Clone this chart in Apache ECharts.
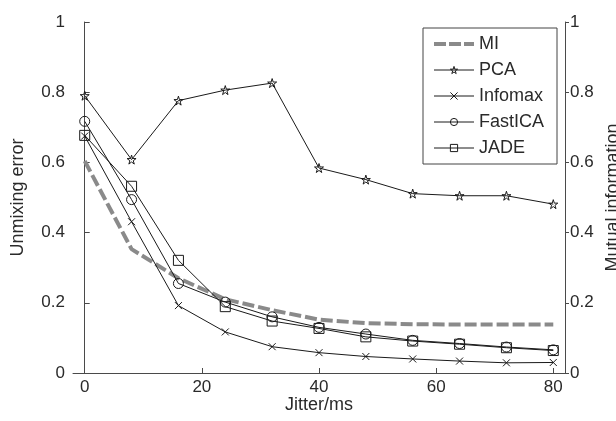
<!DOCTYPE html>
<html>
<head>
<meta charset="utf-8">
<script src="https://cdn.jsdelivr.net/npm/echarts@6/dist/echarts.min.js"></script>
<style>
html,body{margin:0;padding:0;background:#fff;}
#chart{width:616px;height:421px;}
</style>
</head>
<body>
<div id="chart"></div>
<script>
const jitter = [0, 8, 16, 24, 32, 40, 48, 56, 64, 72, 80];
const mi = [0.604, 0.353, 0.27, 0.21, 0.179, 0.152, 0.142, 0.139, 0.138, 0.138, 0.138];
const pca = [0.790, 0.608, 0.776, 0.806, 0.826, 0.584, 0.551, 0.511, 0.505, 0.505, 0.481];
const infomax = [0.675, 0.431, 0.192, 0.117, 0.075, 0.058, 0.047, 0.040, 0.034, 0.029, 0.030];
const fastica = [0.717, 0.494, 0.255, 0.202, 0.160, 0.130, 0.111, 0.093, 0.084, 0.074, 0.066];
const jade = [0.677, 0.532, 0.321, 0.189, 0.148, 0.127, 0.103, 0.091, 0.082, 0.072, 0.064];
const xTicks = [0, 20, 40, 60, 80];

const FONT = 'Liberation Sans, Arial, sans-serif';
const TXT = '#2a2a2a';
const AX = '#4a4a4a';
const INK = '#1a1a1a';
const MI_GRAY = '#8a8a8a';
const CLEAR = 'rgba(255,255,255,0)';

function pairs(ys) { return jitter.map((x, i) => [x, ys[i]]); }

const STAR = 'path://M50,0 L61,35 L98,35 L68,57 L79,91 L50,70 L21,91 L32,57 L2,35 L39,35 Z';
const CROSS = 'path://M0,0 L10,10 M10,0 L0,10';

function blackSeries(name, data, symbol, size) {
  return {
    name: name, type: 'line', data: pairs(data), xAxisIndex: 0, yAxisIndex: 0,
    symbol: symbol, symbolSize: size, showAllSymbol: true,
    lineStyle: { color: INK, width: 1 },
    itemStyle: { color: CLEAR, borderColor: INK, borderWidth: 1 },
    emphasis: { disabled: true }, silent: true, animation: false, z: 3
  };
}
function blackLegend(name) {
  return {
    name: name,
    itemStyle: { color: CLEAR, borderColor: INK, borderWidth: 1 },
    lineStyle: { color: INK, width: 1, type: 'solid' }
  };
}

const chart = echarts.init(document.getElementById('chart'), null, { renderer: 'canvas' });
chart.setOption({
  backgroundColor: '#fff',
  animation: false,
  textStyle: { fontFamily: FONT },
  grid: { left: 73, right: 51, top: 22, bottom: 48, containLabel: false, outerBoundsMode: 'none' },
  legend: {
    orient: 'vertical', left: 423, top: 28,
    padding: [7, 13, 7, 9],
    itemWidth: 40, itemHeight: 9, itemGap: 8,
    borderColor: '#444', borderWidth: 1, backgroundColor: '#fff',
    textStyle: { fontFamily: FONT, fontSize: 18, color: TXT, lineHeight: 18 },
    data: [
      { name: 'MI', itemStyle: { opacity: 0 }, lineStyle: { color: MI_GRAY, width: 4, type: [12, 3] } },
      blackLegend('PCA'),
      blackLegend('Infomax'),
      blackLegend('FastICA'),
      blackLegend('JADE')
    ],
    selectedMode: false
  },
  xAxis: {
    type: 'value', min: -2, max: 82,
    name: 'Jitter/ms', nameLocation: 'middle', nameGap: 23, nameMoveOverlap: false,
    nameTextStyle: { fontFamily: FONT, fontSize: 18, color: TXT },
    axisLine: { show: true, onZero: false, lineStyle: { color: AX, width: 1 } },
    axisTick: { show: true, inside: true, length: 5, customValues: xTicks, lineStyle: { color: AX } },
    axisLabel: { customValues: xTicks, fontFamily: FONT, fontSize: 17, color: TXT, margin: 6 },
    splitLine: { show: false }
  },
  yAxis: [
    {
      type: 'value', min: 0, max: 1, interval: 0.2, position: 'left',
      name: 'Unmixing error', nameLocation: 'middle', nameGap: 46, nameRotate: 90, nameMoveOverlap: false,
      nameTextStyle: { fontFamily: FONT, fontSize: 18, color: TXT },
      axisLine: { show: true, lineStyle: { color: AX, width: 1 } },
      axisTick: { show: true, inside: true, length: 5, lineStyle: { color: AX } },
      axisLabel: { fontFamily: FONT, fontSize: 17, color: TXT, margin: 8 },
      splitLine: { show: false }
    },
    {
      type: 'value', min: 0, max: 1, interval: 0.2, position: 'right',
      name: 'Mutual information', nameLocation: 'middle', nameGap: 39, nameRotate: 90, nameMoveOverlap: false,
      nameTextStyle: { fontFamily: FONT, fontSize: 18, color: TXT },
      axisLine: { show: true, lineStyle: { color: AX, width: 1 } },
      axisTick: { show: true, inside: false, length: 4, lineStyle: { color: AX } },
      axisLabel: { fontFamily: FONT, fontSize: 17, color: TXT, margin: 5 },
      splitLine: { show: false }
    }
  ],
  series: [
    {
      name: 'MI', type: 'line', data: pairs(mi), yAxisIndex: 1,
      symbol: 'none', showSymbol: false,
      lineStyle: { color: MI_GRAY, width: 4, type: [12, 4] },
      itemStyle: { color: MI_GRAY },
      emphasis: { disabled: true }, silent: true, animation: false, z: 2
    },
    blackSeries('PCA', pca, STAR, 9),
    blackSeries('Infomax', infomax, CROSS, 7),
    blackSeries('FastICA', fastica, 'circle', 10),
    blackSeries('JADE', jade, 'rect', 10)
  ]
});
</script>
</body>
</html>
